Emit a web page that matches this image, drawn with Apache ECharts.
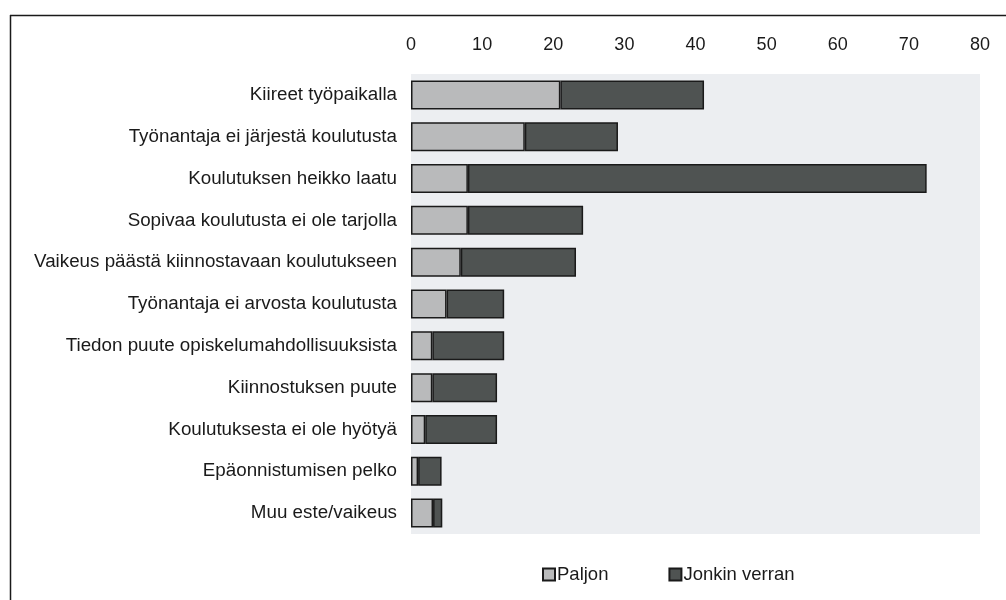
<!DOCTYPE html>
<html>
<head>
<meta charset="utf-8">
<script src="https://cdn.jsdelivr.net/npm/echarts@6/dist/echarts.min.js"></script>
<style>html,body{margin:0;padding:0;background:#fff;}#c{width:1006px;height:600px;}</style>
</head>
<body>
<div id="c"></div>
<script>
const categories = [
  "Kiireet työpaikalla",
  "Työnantaja ei järjestä koulutusta",
  "Koulutuksen heikko laatu",
  "Sopivaa koulutusta ei ole tarjolla",
  "Vaikeus päästä kiinnostavaan koulutukseen",
  "Työnantaja ei arvosta koulutusta",
  "Tiedon puute opiskelumahdollisuuksista",
  "Kiinnostuksen puute",
  "Koulutuksesta ei ole hyötyä",
  "Epäonnistumisen pelko",
  "Muu este/vaikeus"
];
const paljon = [21, 16, 8, 8, 7, 5, 3, 3, 2, 1, 3.1];
const jonkinVerran = [20.2, 13.1, 64.5, 16.2, 16.2, 8.1, 10.1, 9.1, 10.1, 3.3, 1.3];
const seriesNames = ["Paljon", "Jonkin verran"];
const xTicks = [0, 80, 10];

const chart = echarts.init(document.getElementById('c'), null, {renderer: 'canvas'});
const font = "'Liberation Sans', Arial, Helvetica, sans-serif";
chart.setOption({
  backgroundColor: '#ffffff',
  animation: false,
  textStyle: {fontFamily: font},
  graphic: [
    {type: 'line', shape: {x1: 10, y1: 15.5, x2: 1006, y2: 15.5}, style: {stroke: '#1a1a1a', lineWidth: 1.5}, z: 100},
    {type: 'line', shape: {x1: 10.5, y1: 15, x2: 10.5, y2: 600}, style: {stroke: '#1a1a1a', lineWidth: 1.5}, z: 100}
  ],
  grid: {
    left: 411, right: 26, top: 74, bottom: 66,
    show: true, backgroundColor: '#eceef1', borderWidth: 0
  },
  legend: {
    data: seriesNames,
    left: 537, top: 560,
    itemWidth: 12, itemHeight: 12, itemGap: 60,
    icon: 'rect',
    textStyle: {fontFamily: font, fontSize: 18.5, color: '#1a1a1a', padding: [0, 0, 0, -3]}
  },
  xAxis: {
    type: 'value', position: 'top',
    min: xTicks[0], max: xTicks[1], interval: xTicks[2],
    axisLine: {show: false}, axisTick: {show: false}, splitLine: {show: false},
    axisLabel: {fontFamily: font, fontSize: 18, color: '#1a1a1a', margin: 20}
  },
  yAxis: {
    type: 'category', data: categories, inverse: true,
    axisLine: {show: false}, axisTick: {show: false},
    axisLabel: {fontFamily: font, fontSize: 18.8, color: '#1a1a1a', margin: 14}
  },
  series: [
    {
      name: seriesNames[0], type: 'bar', stack: 'a', data: paljon, barWidth: 29,
      itemStyle: {color: '#b9babb', borderColor: '#1a1a1a', borderWidth: 1.5}
    },
    {
      name: seriesNames[1], type: 'bar', stack: 'a', data: jonkinVerran, barWidth: 29,
      itemStyle: {color: '#4f5352', borderColor: '#1a1a1a', borderWidth: 1.5}
    }
  ]
});
</script>
</body>
</html>
